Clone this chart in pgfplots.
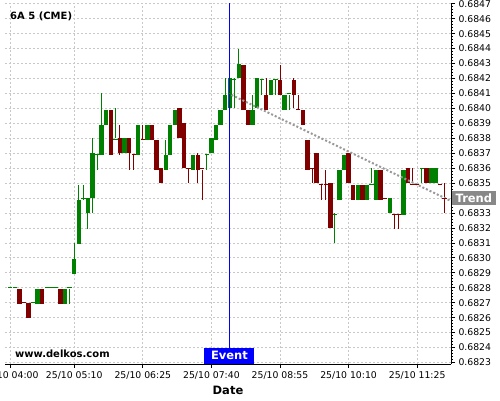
\documentclass[border=0pt]{standalone}
\usepackage{pgfplots}
\pgfplotsset{compat=1.18}
\usepackage{pgfplotstable}
\usepackage{fontspec}
\setmainfont{DejaVu Sans}
\definecolor{cgreen}{HTML}{008000}
\definecolor{cred}{HTML}{800000}
\definecolor{gridc}{HTML}{C8C8C8}
\definecolor{trendc}{HTML}{999999}
\definecolor{trendbox}{HTML}{888888}
\definecolor{evblue}{HTML}{0000FF}

\pgfplotstableread{
t O H L C
0 0.6828 0.6828 0.6828 0.6828
1 0.6828 0.6828 0.6828 0.6828
5 0.6827 0.6827 0.6827 0.6827
6 0.6827 0.6828 0.6827 0.6828
8 0.6828 0.6828 0.6828 0.6828
9 0.6828 0.6828 0.6828 0.6828
10 0.6828 0.6828 0.6828 0.6828
12 0.6827 0.6828 0.6827 0.6828
13 0.6828 0.6828 0.6827 0.6828
14 0.6829 0.6831 0.6829 0.6830
15 0.6831 0.6835 0.6831 0.6834
16 0.6834 0.6835 0.6834 0.6834
17 0.6833 0.6834 0.6832 0.6834
18 0.6834 0.6838 0.6833 0.6837
19 0.6837 0.6837 0.6836 0.6837
20 0.6837 0.6841 0.6837 0.6839
21 0.6839 0.6840 0.6839 0.6840
23 0.6838 0.6840 0.6838 0.6838
25 0.6837 0.6838 0.6837 0.6838
28 0.6837 0.6839 0.6837 0.6839
30 0.6838 0.6839 0.6838 0.6839
34 0.6836 0.6838 0.6836 0.6837
35 0.6837 0.6839 0.6837 0.6839
36 0.6839 0.6840 0.6839 0.6840
40 0.6836 0.6837 0.6836 0.6837
43 0.6837 0.6837 0.6836 0.6837
44 0.6837 0.6838 0.6837 0.6838
45 0.6838 0.6839 0.6838 0.6839
46 0.6839 0.6840 0.6839 0.6840
47 0.6840 0.6842 0.6840 0.6841
48 0.6840 0.6842 0.6840 0.6842
49 0.6842 0.6842 0.6840 0.6842
50 0.6842 0.6844 0.6842 0.6843
53 0.6839 0.6841 0.6839 0.6840
54 0.6840 0.6842 0.6840 0.6842
55 0.6842 0.6842 0.6841 0.6842
57 0.6841 0.6842 0.6841 0.6842
58 0.6842 0.6842 0.6841 0.6842
60 0.6840 0.6841 0.6840 0.6841
61 0.6841 0.6841 0.6840 0.6841
71 0.6833 0.6833 0.6831 0.6833
72 0.6834 0.6836 0.6834 0.6836
73 0.6836 0.6837 0.6836 0.6837
76 0.6834 0.6835 0.6834 0.6835
78 0.6834 0.6835 0.6834 0.6835
79 0.6835 0.6836 0.6835 0.6835
80 0.6834 0.6836 0.6834 0.6836
83 0.6833 0.6834 0.6833 0.6834
86 0.6833 0.6836 0.6833 0.6836
90 0.6836 0.6836 0.6835 0.6836
92 0.6835 0.6836 0.6835 0.6836
93 0.6835 0.6836 0.6835 0.6836
}\greentab

\pgfplotstableread{
t O H L C
2 0.6828 0.6828 0.6827 0.6827
3 0.6827 0.6827 0.6827 0.6827
4 0.6827 0.6827 0.6826 0.6826
7 0.6828 0.6828 0.6827 0.6827
11 0.6828 0.6828 0.6827 0.6827
22 0.6840 0.6840 0.6837 0.6837
24 0.6838 0.6839 0.6837 0.6837
26 0.6838 0.6838 0.6836 0.6837
27 0.6837 0.6837 0.6836 0.6837
29 0.6838 0.6839 0.6838 0.6838
31 0.6839 0.6839 0.6838 0.6838
32 0.6838 0.6838 0.6836 0.6836
33 0.6836 0.6836 0.6835 0.6835
37 0.6840 0.6840 0.6838 0.6838
38 0.6839 0.6839 0.6836 0.6836
39 0.6836 0.6836 0.6835 0.6836
41 0.6837 0.6837 0.6835 0.6836
42 0.6836 0.6836 0.6834 0.6836
51 0.6843 0.6843 0.6840 0.6840
52 0.6840 0.6840 0.6839 0.6839
56 0.6841 0.6842 0.6840 0.6840
59 0.6842 0.6843 0.6841 0.6841
62 0.6842 0.6842 0.6840 0.6841
63 0.6840 0.6841 0.6840 0.6840
64 0.6840 0.6840 0.6839 0.6839
65 0.6838 0.6838 0.6836 0.6836
66 0.6836 0.6836 0.6835 0.6836
67 0.6837 0.6837 0.6835 0.6835
68 0.6835 0.6835 0.6834 0.6835
69 0.6835 0.6836 0.6834 0.6835
70 0.6835 0.6835 0.6832 0.6832
74 0.6837 0.6837 0.6835 0.6835
75 0.6835 0.6835 0.6834 0.6834
77 0.6835 0.6835 0.6834 0.6834
81 0.6836 0.6836 0.6834 0.6834
82 0.6834 0.6834 0.6834 0.6834
84 0.6833 0.6833 0.6832 0.6833
85 0.6833 0.6833 0.6832 0.6833
87 0.6836 0.6836 0.6835 0.6835
88 0.6835 0.6836 0.6835 0.6835
89 0.6835 0.6835 0.6835 0.6835
91 0.6836 0.6836 0.6835 0.6835
94 0.6835 0.6835 0.6835 0.6835
95 0.6834 0.6835 0.6833 0.6834
}\redtab

\begin{document}
\begin{tikzpicture}
\path[use as bounding box] (0pt,0pt) rectangle (500pt,400pt);
\begin{axis}[
  at={(5pt,36pt)}, anchor=south west,
  scale only axis, width=446pt, height=361pt,
  xmin=-1.15, xmax=96.4, ymin=0.68229, ymax=0.684705,
  axis x line*=bottom, axis y line*=right,
  axis line style={black, line width=1pt},
  xtick={0,14,29,44,59,74,89},
  xticklabels={25/10 04:00,25/10 05:10,25/10 06:25,25/10 07:40,25/10 08:55,25/10 10:10,25/10 11:25},
  ytick={0.6823,0.6824,0.6825,0.6826,0.6827,0.6828,0.6829,0.6830,0.6831,0.6832,0.6833,0.6834,0.6835,0.6836,0.6837,0.6838,0.6839,0.6840,0.6841,0.6842,0.6843,0.6844,0.6845,0.6846,0.6847},
  minor x tick num=3, minor y tick num=4,
  tick align=outside, major tick length=4pt, minor tick length=2pt,
  tick style={black, line width=0.8pt},
  scaled y ticks=false,
  yticklabel style={/pgf/number format/.cd, fixed, fixed zerofill, precision=4, assume math mode=true},
  ticklabel style={font=\fontsize{9.3}{11}\selectfont},
  grid=major,
  major grid style={gridc, dash pattern=on 2pt off 2pt, line width=0.8pt},
  xlabel={Date},
  xlabel style={font=\bfseries\fontsize{11.5}{13}\selectfont},
]
% wicks (marks made invisible, only the error bars show)
\addplot[cgreen, only marks, mark=*, mark options={draw opacity=0, fill opacity=0}, error bars/.cd, y dir=both, y explicit, error mark=none, error bar style={line width=1pt, draw opacity=1}]
  table[x=t, y expr={(\thisrow{H}+\thisrow{L})/2}, y error expr={(\thisrow{H}-\thisrow{L})/2}] {\greentab};
\addplot[cred, only marks, mark=*, mark options={draw opacity=0, fill opacity=0}, error bars/.cd, y dir=both, y explicit, error mark=none, error bar style={line width=1pt, draw opacity=1}]
  table[x=t, y expr={(\thisrow{H}+\thisrow{L})/2}, y error expr={(\thisrow{H}-\thisrow{L})/2}] {\redtab};
% bodies
\addplot[cgreen, only marks, mark=-, mark size=2.2pt, mark options={line width=1pt}, error bars/.cd, y dir=both, y explicit, error mark=none, error bar style={line width=4.4pt}]
  table[x=t, y expr={(\thisrow{O}+\thisrow{C})/2}, y error expr={abs(\thisrow{O}-\thisrow{C})/2}] {\greentab};
\addplot[cred, only marks, mark=-, mark size=2.2pt, mark options={line width=1pt}, error bars/.cd, y dir=both, y explicit, error mark=none, error bar style={line width=4.4pt}]
  table[x=t, y expr={(\thisrow{O}+\thisrow{C})/2}, y error expr={abs(\thisrow{O}-\thisrow{C})/2}] {\redtab};
% trend
\addplot[trendc, line width=2pt, dash pattern=on 2pt off 2pt] coordinates {(48.4,0.68409) (96.4,0.68338)};
% event
\addplot[draw=evblue, line width=1.2pt] coordinates {(47.95,0.68229) (47.95,0.684705)};
\node[fill=evblue, text=white, font=\bfseries\fontsize{11.5}{13}\selectfont, anchor=south, inner sep=0pt, minimum width=50pt, minimum height=16.3pt] at (axis cs:47.95,0.68229) {Event};
\coordinate (trendend) at (axis cs:96.4,0.68340);
\end{axis}
\node[fill=trendbox, text=white, font=\bfseries\fontsize{11.5}{13}\selectfont, anchor=west, inner sep=0pt, minimum width=44pt, minimum height=14pt] at ([xshift=0.7pt]trendend) {Trend};
\node[anchor=base west, inner sep=0pt, font=\bfseries\fontsize{10}{12}\selectfont] at (10pt,380.7pt) {6A 5 (CME)};
\node[anchor=base west, inner sep=0pt, font=\bfseries\fontsize{10}{12}\selectfont] at (15pt,42.7pt) {www.delkos.com};
\end{tikzpicture}
\end{document}
